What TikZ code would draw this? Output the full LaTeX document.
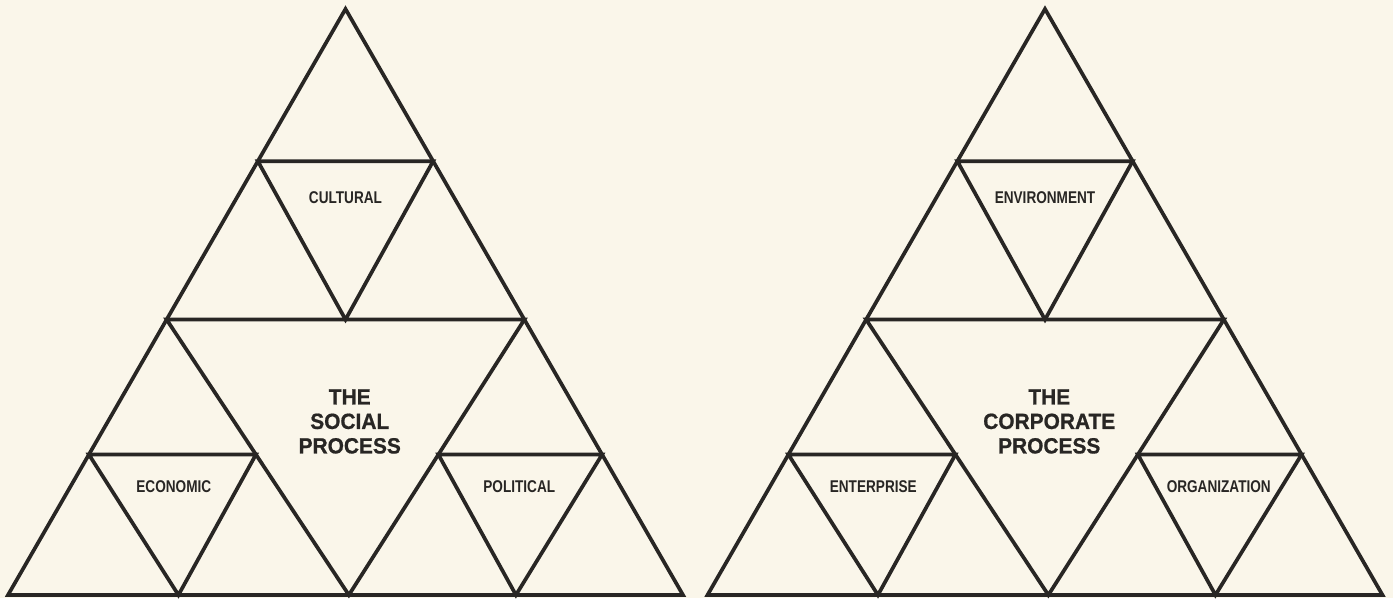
\documentclass[tikz,border=0pt]{standalone}
\usepackage{fontspec}
\setmainfont{Liberation Sans}
\newfontfamily\tagfont{Liberation Sans Bold}[FakeStretch=0.80]
\newfontfamily\headfont{Liberation Sans Bold}[FakeStretch=0.95,FakeBold=0.8]
\usetikzlibrary{calc}
\definecolor{PaperCream}{RGB}{250,246,234}
\definecolor{InkGray}{RGB}{40,38,36}
\tikzset{
  tri/edge/.style={
    draw=InkGray,
    line width=3.7pt,
    line join=miter
  },
  tri/label/.style={
    font=\tagfont\fontsize{17}{19}\selectfont,
    text=InkGray,
    inner sep=0pt
  },
  tri/title/.style={
    font=\headfont\fontsize{22}{24.5}\selectfont,
    text=InkGray,
    align=center,
    inner sep=0pt
  }
}
% corner triangle #1 (apex), #2 (left), #3 (right), split into four, label #4
\newcommand{\splittri}[4]{%
  \coordinate (#1#2) at ($(#1)!0.49!(#2)$);
  \coordinate (#1#3) at ($(#1)!0.49!(#3)$);
  \coordinate (#2#3) at ($(#2)!0.5!(#3)$);
  \coordinate (#1#2#3top) at ($(#1#2)!0.5!(#1#3)$);
  \draw[tri/edge] (#1#2) -- (#1#3) -- (#2#3) -- cycle;
  \node[tri/label] (#1#2#3) at ($(#1#2#3top)!0.23!(#2#3)$) {#4};
}

\begin{document}
\begin{tikzpicture}[x=1pt,y=1pt]
  \fill[PaperCream] (0,0) rectangle (1393,598);
  \useasboundingbox (0,0) rectangle (1393,598);
  \foreach \dx/\core/\upper/\lleft/\lright in {
      0/{THE\\SOCIAL\\PROCESS}/CULTURAL/ECONOMIC/POLITICAL,
      699.5/{THE\\CORPORATE\\PROCESS}/ENVIRONMENT/ENTERPRISE/ORGANIZATION}{
    \begin{scope}[xshift=\dx]
      % outer triangle and its first split
      \coordinate (A) at (345.5,589);
      \coordinate (L) at (8,3);
      \coordinate (R) at (683,3);
      \coordinate (P) at ($(A)!0.53!(L)$);
      \coordinate (Q) at ($(A)!0.53!(R)$);
      \coordinate (M) at ($(L)!0.505!(R)$);
      \coordinate (PQ) at ($(P)!0.5!(Q)$);
      \draw[tri/edge] (A) -- (L) -- (R) -- cycle;
      \draw[tri/edge] (P) -- (Q) -- (M) -- cycle;
      \node[tri/title,xshift=3pt] (core) at ($(PQ)!0.37!(M)$) {\core};
      % the three corner triangles
      \splittri{A}{P}{Q}{\upper}
      \splittri{P}{L}{M}{\lleft}
      \splittri{Q}{M}{R}{\lright}
    \end{scope}
  }
\end{tikzpicture}
\end{document}
